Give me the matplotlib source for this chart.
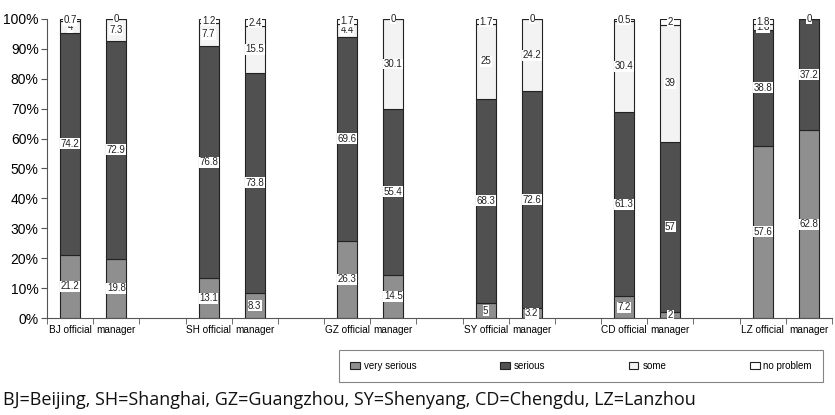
import numpy as np
import matplotlib
matplotlib.use("Agg")
import matplotlib.pyplot as plt
from matplotlib.patches import Patch

cities = ["BJ", "SH", "GZ", "SY", "CD", "LZ"]
roles = ["official", "manager"]

# raw percentages per bar: official, manager for each city
very_serious = [21.2, 19.8, 13.1, 8.3, 26.3, 14.5, 5, 3.2, 7.2, 2, 57.6, 62.8]
serious = [74.2, 72.9, 76.8, 73.8, 69.6, 55.4, 68.3, 72.6, 61.3, 57, 38.8, 37.2]
some = [4, 7.3, 7.7, 15.5, 4.4, 30.1, 25, 24.2, 30.4, 39, 1.8, 0]
no_problem = [0.7, 0, 1.2, 2.4, 1.7, 0, 1.7, 0, 0.5, 2, 1.8, 0]

series_names = ["very serious", "serious", "some", "no problem"]
colors = ["#8f8f8f", "#505050", "#f3f3f3", "#ffffff"]

data = np.array([very_serious, serious, some, no_problem], dtype=float)
shares = data / data.sum(axis=0) * 100

# bar slots: official, manager, then an empty slot between cities
positions = []
labels = []
for i, c in enumerate(cities):
    positions += [3 * i, 3 * i + 1]
    labels += [f"{c} official", "manager"]
positions = np.array(positions)

fig = plt.figure(figsize=(8.35, 4.15), dpi=100)
ax = fig.add_axes([47 / 835, 97 / 415, 785 / 835, 299 / 415])

bottom = np.zeros(len(positions))
for k in range(4):
    ax.bar(positions, shares[k], width=0.43, bottom=bottom, color=colors[k],
           edgecolor="#222222", linewidth=0.8, label=series_names[k], zorder=2)
    for x, b, h, v in zip(positions, bottom, shares[k], data[k]):
        ax.text(x, b + h / 2, f"{v:g}", ha="center", va="center", fontsize=7,
                family="Liberation Sans", color="#222222", zorder=3,
                bbox=dict(boxstyle="square,pad=0.05", fc="white", ec="none"))
    bottom += shares[k]

ax.set_xlim(-0.5, 16.5)
ax.set_ylim(0, 100)
ax.set_yticks(np.arange(0, 101, 10))
ax.set_yticklabels([f"{v}%" for v in range(0, 101, 10)], family="Liberation Sans", fontsize=10)
ax.set_xticks(positions)
ax.set_xticklabels(labels, family="Liberation Sans", fontsize=7.2)
ax.set_xticks(np.arange(-0.5, 16.6, 1), minor=True)
ax.tick_params(axis="x", which="major", length=0, pad=5)
ax.tick_params(axis="x", which="minor", length=4, color="#555555")
ax.tick_params(axis="y", length=4, color="#555555", pad=2)
for s in ["top", "right"]:
    ax.spines[s].set_visible(False)
ax.spines["left"].set_color("#555555")
ax.spines["bottom"].set_color("#555555")

handles = [Patch(facecolor=colors[k], edgecolor="#222222", linewidth=0.8, label=series_names[k]) for k in range(4)]
leg = fig.legend(handles=handles, loc="center", bbox_to_anchor=(581 / 835, 1 - 366 / 415), ncol=4,
                 prop={"family": "Liberation Sans", "size": 7}, frameon=True, fancybox=False,
                 edgecolor="#666666", columnspacing=8.6, handlelength=1.0, handleheight=0.8,
                 handletextpad=0.4, borderpad=1.1, borderaxespad=0)
leg.get_frame().set_linewidth(0.8)

fig.text(3 / 835, 1 - 400 / 415, "BJ=Beijing, SH=Shanghai, GZ=Guangzhou, SY=Shenyang, CD=Chengdu, LZ=Lanzhou",
         ha="left", va="center", fontsize=13, family="Open Sans", color="#111111")

fig.savefig("out.png", dpi=100)
